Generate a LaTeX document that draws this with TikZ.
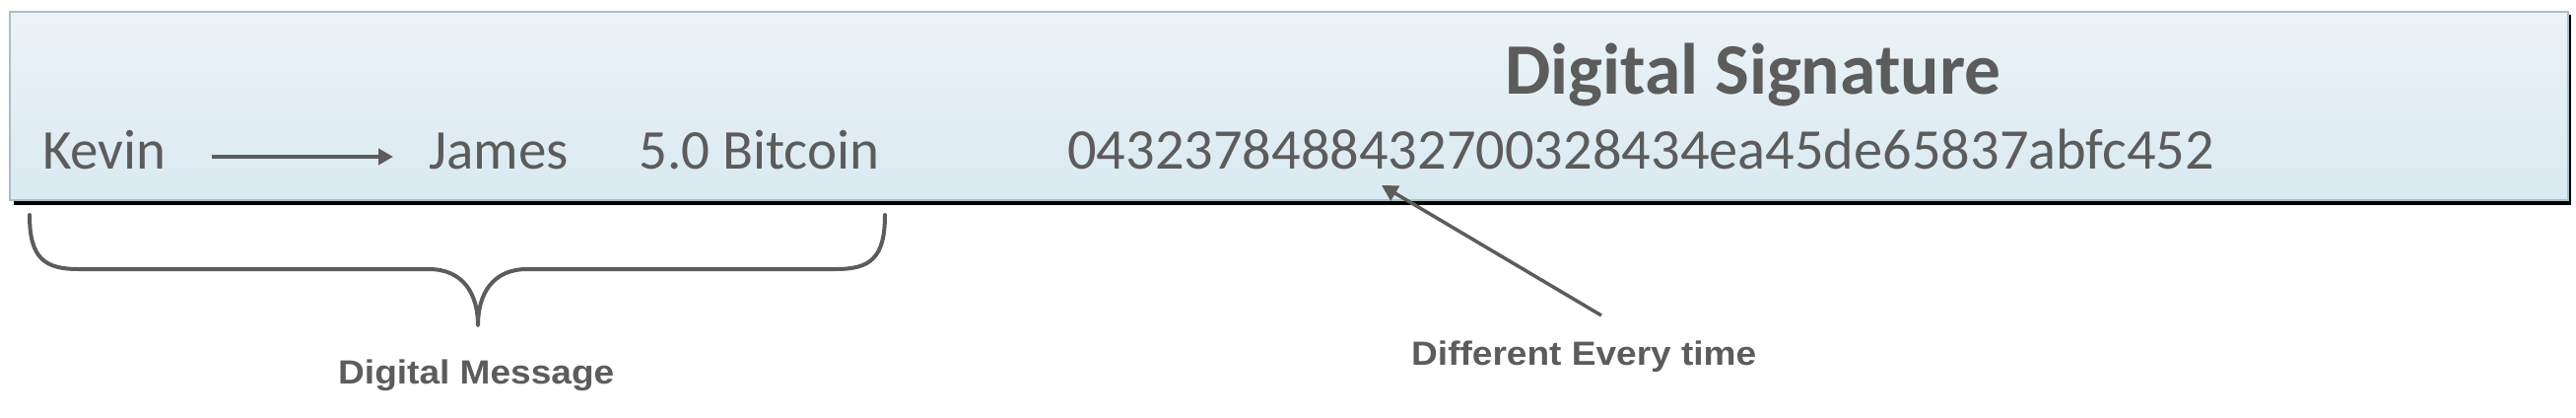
\documentclass[tikz,border=0pt]{standalone}
\usepackage{fontspec}
\setmainfont{Carlito}
\newfontfamily\labelfont{Liberation Sans}
\usetikzlibrary{arrows.meta}
\definecolor{txtgray}{HTML}{5C5C5C}
\definecolor{boxtop}{HTML}{EBF3F6}
\definecolor{boxbot}{HTML}{D9EAF1}
\definecolor{boxedge}{HTML}{AABEC5}
\newcommand{\widelabel}[1]{\scalebox{1.09}[1]{#1}}
\tikzset{
  boxtext/.style={anchor=base west, inner sep=0pt, text=txtgray, font=\fontsize{57}{60}\selectfont},
  titletext/.style={anchor=base west, inner sep=0pt, text=txtgray, font=\fontsize{73.5}{76}\selectfont\bfseries},
  notetext/.style={anchor=base west, inner sep=0pt, text=txtgray, font=\labelfont\fontsize{34}{40}\selectfont\bfseries},
  conn/.style={draw=txtgray, line width=4.5pt, -{Triangle[length=15pt,width=16pt]}},
  pointer/.style={draw=txtgray, line width=3.5pt, -{Triangle[length=16pt,width=17pt]}},
  bracestyle/.style={draw=txtgray, line width=4pt, line cap=round, line join=round}
}
\begin{document}
\begin{tikzpicture}[x=1pt,y=-1pt]
\useasboundingbox (0,0) rectangle (2614,423);
% shadow and box
\fill[black] (14,15) rectangle (2609,208);
\shade[top color=boxtop, bottom color=boxbot, draw=boxedge, line width=2pt] (10,12) rectangle (2606,203);
% texts in box
\node[boxtext] (kevin) at (43,171) {Kevin};
\node[boxtext] (james) at (435,171) {James};
\node[boxtext] (bitcoin) at (648,171) {5.0 Bitcoin};
\node[titletext] (title) at (1527,95) {Digital Signature};
\node[boxtext, font=\fontsize{58.4}{60}\selectfont] (hash) at (1083,171) {0432378488432700328434ea45de65837abfc452};
% arrow Kevin -> James
\draw[conn] ([shift={(46,-12)}]kevin.base east) -- ([shift={(-36,-12)}]james.base west);
% brace under the message
\draw[bracestyle] (30,218) .. controls (30,262) and (45,273) .. (80,273)
  -- (435,273) .. controls (470,273) and (485,298) .. (485,330)
  .. controls (485,298) and (500,273) .. (535,273)
  -- (848,273) .. controls (883,273) and (898,262) .. (898,218);
\node[notetext] (msg) at (343,389) {\widelabel{Digital Message}};
% pointer
\node[notetext] (diff) at (1432,370) {\widelabel{Different Every time}};
\coordinate (tip) at (1402,188);
\draw[pointer] ([shift={(193,-50)}]diff.base west) -- (tip);
\end{tikzpicture}
\end{document}
